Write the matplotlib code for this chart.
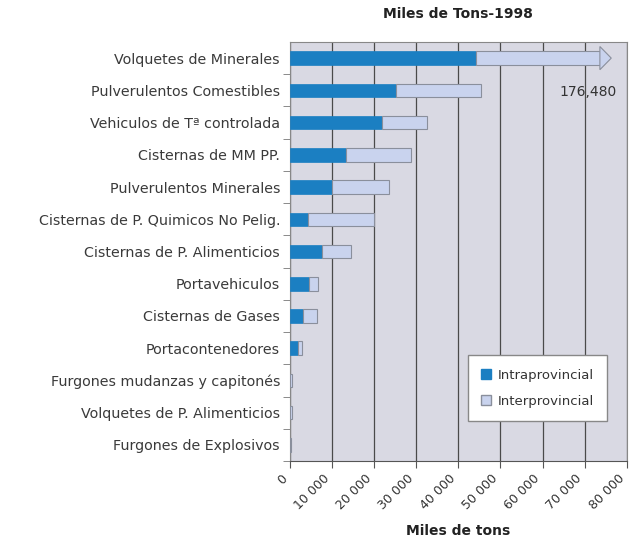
import matplotlib
matplotlib.use("Agg")
import matplotlib.pyplot as plt
import numpy as np
from matplotlib.patches import Polygon, Patch
from matplotlib.ticker import FuncFormatter, FixedLocator

plt.rcParams['font.family'] = ['DejaVu Sans']

categories = [
    "Volquetes de Minerales",
    "Pulverulentos Comestibles",
    "Vehiculos de T\u00aa controlada",
    "Cisternas de MM PP.",
    "Pulverulentos Minerales",
    "Cisternas de P. Quimicos No Pelig.",
    "Cisternas de P. Alimenticios",
    "Portavehiculos",
    "Cisternas de Gases",
    "Portacontenedores",
    "Furgones mudanzas y capitonés",
    "Volquetes de P. Alimenticios",
    "Furgones de Explosivos",
]
intraprovincial = [44100, 25300, 22000, 13300, 10000, 4350, 7650, 4600, 3200, 2000, 150, 120, 80]
interprovincial = [132380, 20200, 10600, 15500, 13600, 15750, 6850, 2100, 3300, 900, 450, 380, 150]
total_label = "176,480"
xticks = [0, 10000, 20000, 30000, 40000, 50000, 60000, 70000, 80000]
clip_at = 76300

c_intra = "#1b7fc2"
c_inter = "#c9d3ee"
c_edge = "#8a8f9c"

fig = plt.figure(figsize=(6.3, 5.42), dpi=100)
ax = fig.add_axes([0.460, 0.1494, 0.535, 0.7731])
ax.set_facecolor("#d9d9e3")

y = np.arange(len(categories))
h = 0.42
inter_draw = [min(a + b, clip_at - 2700) - a for a, b in zip(intraprovincial, interprovincial)]
ax.barh(y, intraprovincial, height=h, color=c_intra, edgecolor=c_intra, linewidth=0.5, zorder=3)
ax.barh(y, inter_draw, left=intraprovincial, height=h, color=c_inter,
        edgecolor=c_edge, linewidth=0.8, zorder=3)

# arrow head for clipped bar
i0 = 0
start = intraprovincial[i0] + inter_draw[i0]
head = Polygon([[start, y[i0] - 0.36], [clip_at, y[i0]], [start, y[i0] + 0.36]],
               closed=True, facecolor=c_inter, edgecolor=c_edge, linewidth=0.8, zorder=3)
ax.add_patch(head)
ax.text(clip_at + 1400, y[1] + 0.05, total_label, ha="right", va="center",
        fontsize=10, color="#333333", zorder=4)

ax.set_xlim(0, 80000)
ax.set_ylim(len(categories) - 0.5, -0.5)
ax.set_xticks(xticks)
ax.xaxis.set_major_formatter(FuncFormatter(lambda v, p: f"{int(v):,}".replace(",", " ")))
ax.tick_params(axis="x", length=5, color="#555555", pad=3, labelsize=9,
               labelcolor="#333333", labelrotation=45)
for lab in ax.get_xticklabels():
    lab.set_ha("right")
ax.grid(axis="x", color="#4a4a4a", linewidth=0.9, zorder=1)

ax.set_yticks(y)
ax.set_yticklabels(categories, fontsize=10.3, color="#3a3a3a")
ax.tick_params(axis="y", length=0, pad=7)
ax.yaxis.set_minor_locator(FixedLocator(np.arange(len(categories)) + 0.5))
ax.tick_params(axis="y", which="minor", length=5, color="#777777")

for s in ["top", "right"]:
    ax.spines[s].set_color("#888888")
    ax.spines[s].set_linewidth(0.8)
ax.spines["left"].set_color("#888888")
ax.spines["bottom"].set_color("#555555")

ax.set_xlabel("Miles de tons", fontsize=10, fontweight="bold", color="#222222", labelpad=8)
ax.set_title("Miles de Tons-1998", fontsize=10, fontweight="bold", color="#222222", pad=17)

handles = [Patch(facecolor=c_intra, edgecolor=c_intra, label="Intraprovincial"),
           Patch(facecolor=c_inter, edgecolor=c_edge, label="Interprovincial")]
leg = ax.legend(handles=handles, loc="lower right", bbox_to_anchor=(0.96, 0.08),
                fontsize=9.5, frameon=True, fancybox=False, handlelength=0.7,
                handleheight=0.7, borderpad=1.0, labelspacing=1.0, handletextpad=0.5)
leg.get_frame().set_edgecolor("#888888")
leg.get_frame().set_facecolor("white")
leg.get_frame().set_alpha(1)
for t in leg.get_texts():
    t.set_color("#333333")

fig.savefig("out.png", dpi=100)
